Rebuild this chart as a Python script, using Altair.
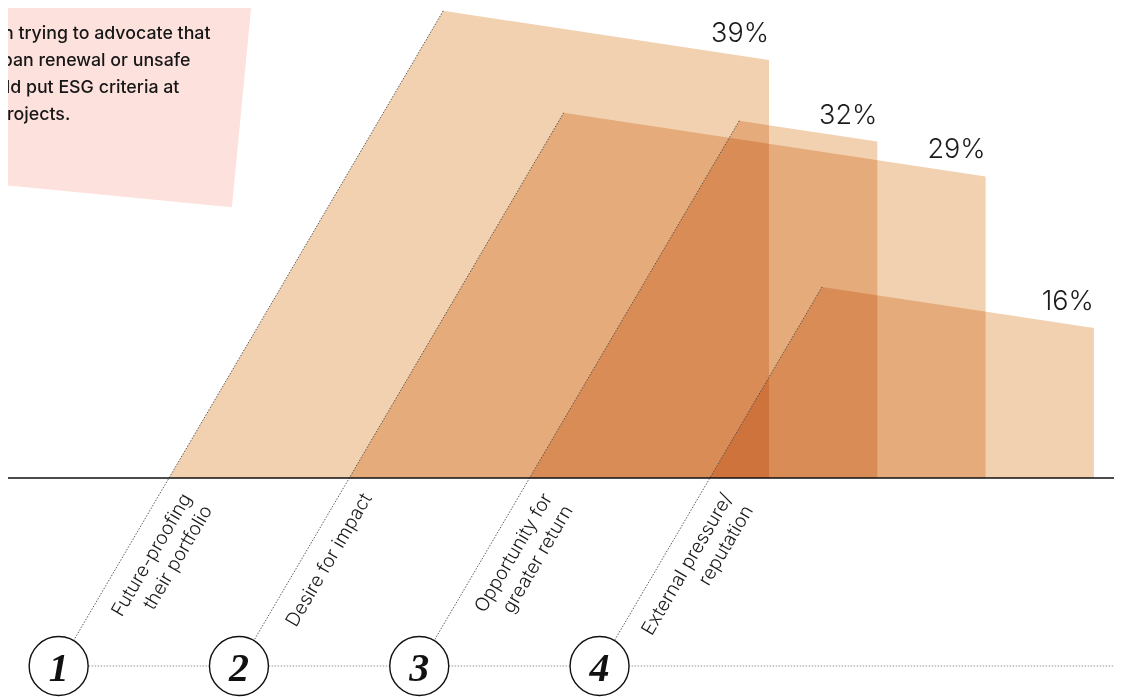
import altair as alt
import pandas as pd

# ---------------- data ----------------
categories = ["Future-proofing\ntheir portfolio", "Desire for impact",
              "Opportunity for\ngreater return", "External pressure/\nreputation"]
numbers = ["1", "2", "3", "4"]
values = [39, 29, 32, 16]
note_lines = ["When trying to advocate that",
              "in urban renewal or unsafe",
              "should put ESG criteria at",
              "the projects."]

# ---------------- layout ----------------
W, H = 1106, 689
BASE_Y = 470.0            # pixel row of the baseline inside the plot
PX_PER_PCT = 11.65        # vertical scale
BASE_PCT = 3.12           # value sitting on the baseline
Y_HI = BASE_PCT + BASE_Y / PX_PER_PCT
Y_LO = BASE_PCT - (H - BASE_Y) / PX_PER_PCT
SLOT_X0, SLOT_DX = 161.0, 180.3     # foot of each slanted edge
RIGHT_X0, RIGHT_DX = 761.0, 108.3   # right edges, by rank
TOP_SLOPE = 0.151                   # fall of the top edge per unit of x
LEFT_SLANT = 0.587                  # x shift per unit of height
CIRCLE_PCT = BASE_PCT - (658 - BASE_Y) / PX_PER_PCT
LABEL_PCT = BASE_PCT - 20 / PX_PER_PCT

s_v = TOP_SLOPE / PX_PER_PCT
k_v = LEFT_SLANT * PX_PER_PCT
order = sorted(range(len(values)), key=lambda i: -values[i])
rank = {i: r for r, i in enumerate(order)}

area_rows, edge_rows, lab_rows, pct_rows, circ_rows = [], [], [], [], []
for i, (cat, v) in enumerate(zip(categories, values)):
    xb = SLOT_X0 + i * SLOT_DX
    xr = RIGHT_X0 + rank[i] * RIGHT_DX
    v_tl = (v + s_v * (xr - xb + k_v * BASE_PCT)) / (1 + s_v * k_v)
    x_tl = xb + k_v * (v_tl - BASE_PCT)
    x_c = xb + k_v * (CIRCLE_PCT - BASE_PCT)
    for x, y in [(xb, BASE_PCT), (x_tl, v_tl), (xr, v)]:
        area_rows.append(dict(item=i, x=x, y=y, y0=BASE_PCT))
    edge_rows.append(dict(item=i, x=x_tl, y=v_tl, x2=x_c, y2=CIRCLE_PCT))
    lab_rows.append(dict(item=i, x=xb + 23, y=LABEL_PCT, text=cat))
    pct_rows.append(dict(item=i, x=xr, y=v, text=f"{v}%"))
    circ_rows.append(dict(item=i, x=x_c, y=CIRCLE_PCT, text=numbers[i]))

areas = pd.DataFrame(area_rows)
edges = pd.DataFrame(edge_rows)
labs = pd.DataFrame(lab_rows)
pcts = pd.DataFrame(pct_rows)
circs = pd.DataFrame(circ_rows)
base_df = pd.DataFrame({"x": [0.0], "x2": [float(W)], "y": [BASE_PCT]})
dot_df = pd.DataFrame({"x": [circ_rows[0]["x"]], "x2": [float(W)], "y": [CIRCLE_PCT]})
note_df = pd.DataFrame({"text": ["\n".join(note_lines)]})

xs = alt.Scale(domain=[0, W], nice=False, zero=False)
ys = alt.Scale(domain=[Y_LO, Y_HI], nice=False, zero=False)
X = alt.X("x:Q", scale=xs, axis=None)
Y = alt.Y("y:Q", scale=ys, axis=None, stack=None)

note_box = alt.Chart(note_df).mark_point(
    shape="square", filled=True, fill="#FDE1DC", size=420 * 420, angle=5.5,
    opacity=1, strokeWidth=0
).encode(x=alt.value(35), y=alt.value(-30))

note_text = alt.Chart(note_df).mark_text(
    align="left", baseline="alphabetic", lineBreak="\n", fontSize=17.8,
    lineHeight=27, font="Inter", fontWeight=500, color="#161616"
).encode(x=alt.value(-44), y=alt.value(31), text="text:N")

shapes = alt.Chart(areas).mark_area(
    color="#F2D1B1", blend="multiply", interpolate="linear"
).encode(x=X, y=Y, y2="y0:Q", detail="item:N")

edge_lines = alt.Chart(edges).mark_rule(
    color="#4a4a4a", strokeWidth=0.9, strokeDash=[1.5, 1.5]
).encode(x=X, y=Y, x2="x2:Q", y2="y2:Q")

baseline = alt.Chart(base_df).mark_rule(color="#111111", strokeWidth=1.3).encode(
    x=X, x2="x2:Q", y=Y)

bottom_dots = alt.Chart(dot_df).mark_rule(
    color="#8a8a8a", strokeWidth=0.9, strokeDash=[1.5, 1.5]
).encode(x=X, x2="x2:Q", y=Y)

circles = alt.Chart(circs).mark_point(
    shape="circle", filled=False, fill="white", fillOpacity=1, stroke="#111111",
    strokeWidth=1.4, size=59 * 59, opacity=1
).encode(x=X, y=Y)

nums = alt.Chart(circs).mark_text(
    font="Liberation Serif", fontStyle="italic", fontWeight="bold", fontSize=40,
    baseline="alphabetic", align="center", dy=15, color="#111111"
).encode(x=X, y=Y, text="text:N")

labels = alt.Chart(labs).mark_text(
    font="Inter", fontWeight=300, fontSize=19, lineHeight=24, lineBreak="\n",
    align="right", baseline="alphabetic", angle=300.4, color="#1b1b1b"
).encode(x=X, y=Y, text="text:N")

pct_labels = alt.Chart(pcts).mark_text(
    font="Inter", fontWeight=300, fontSize=27, align="right",
    baseline="alphabetic", dy=-18, color="#1b1b1b"
).encode(x=X, y=Y, text="text:N")

chart = alt.layer(
    note_box, note_text, shapes, edge_lines, baseline, bottom_dots,
    circles, nums, labels, pct_labels
).properties(
    width=W, height=H, autosize=alt.AutoSizeParams(type="none"), padding=0,
    background="white"
).configure_view(stroke=None)

chart.save("out.html", embed_options={"renderer": "svg", "actions": False})
